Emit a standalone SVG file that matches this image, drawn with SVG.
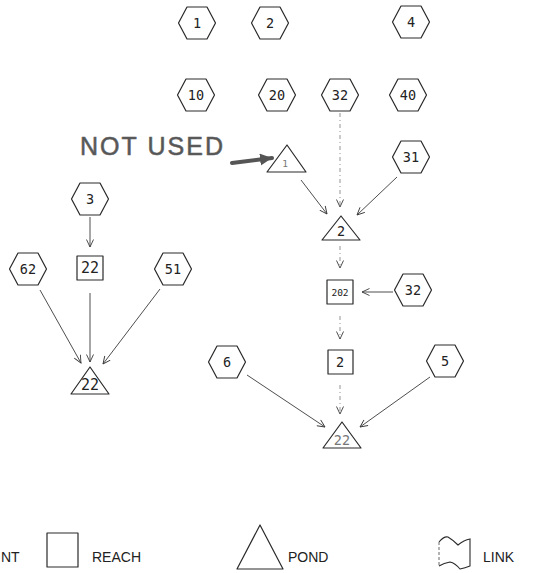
<svg xmlns="http://www.w3.org/2000/svg" xmlns:xlink="http://www.w3.org/1999/xlink" width="539" height="573" viewBox="0 0 539 573">
  <style>
    .shape { fill: #fff; stroke: #2a2a2a; stroke-width: 1.2; stroke-linejoin: round; }
    .lbl { font-family: "DejaVu Sans Mono", "Liberation Mono", monospace; font-size: 13.5px; fill: #222; text-anchor: middle; dominant-baseline: central; }
    .lbl-s { font-size: 9.5px; }
    .lbl-l { font-size: 15px; }
    .faint { fill: #777; }
    .edge { fill: none; stroke: #3a3a3a; stroke-width: 0.9; }
    .dot { fill: none; stroke: #888; stroke-width: 0.9; stroke-dasharray: 4 3 1 3; }
    .legend { font-family: "Liberation Sans", Arial, sans-serif; font-size: 14px; fill: #222; }
    .hand { font-family: "Liberation Sans", Arial, sans-serif; font-size: 25px; fill: #555; stroke: #666; stroke-width: 0.6; stroke-linejoin: round; }
  </style>
  <defs>
    <path id="hex" d="M-18.5,0 L-10,-16 L10,-16 L18.5,0 L10,16 L-10,16 Z"/>
    <marker id="vee" markerUnits="userSpaceOnUse" markerWidth="12" markerHeight="12" refX="8" refY="4" orient="auto">
      <path d="M0.5,0.5 L8,4 L0.5,7.5" fill="none" stroke="#3a3a3a" stroke-width="0.9"/>
    </marker>
    <marker id="bold" markerUnits="userSpaceOnUse" markerWidth="16" markerHeight="14" refX="12" refY="6" orient="auto">
      <path d="M0,0 L12,6 L0,12 Z" fill="#555"/>
    </marker>
  </defs>

  <rect width="539" height="573" fill="#fff"/>

  <!-- connectors -->
  <g id="connectors">
    <line class="edge" x1="90" y1="217" x2="90" y2="247" marker-end="url(#vee)"/>
    <line class="edge" x1="40" y1="290" x2="81" y2="363" marker-end="url(#vee)"/>
    <line class="edge" x1="90" y1="293" x2="90" y2="362" marker-end="url(#vee)"/>
    <line class="edge" x1="160" y1="289" x2="103" y2="364" marker-end="url(#vee)"/>
    <line class="dot" x1="340" y1="113" x2="340" y2="207" marker-end="url(#vee)"/>
    <line class="edge" x1="301" y1="180" x2="327" y2="214" marker-end="url(#vee)"/>
    <line class="edge" x1="397" y1="177" x2="357" y2="215" marker-end="url(#vee)"/>
    <line class="dot" x1="340" y1="246" x2="340" y2="268" marker-end="url(#vee)"/>
    <line class="edge" x1="393" y1="292" x2="362" y2="292" marker-end="url(#vee)"/>
    <line class="dot" x1="340" y1="316" x2="340" y2="339" marker-end="url(#vee)"/>
    <line class="dot" x1="340" y1="385" x2="340" y2="414" marker-end="url(#vee)"/>
    <line class="edge" x1="247" y1="375" x2="325" y2="427" marker-end="url(#vee)"/>
    <line class="edge" x1="430" y1="377" x2="360" y2="427" marker-end="url(#vee)"/>
  </g>

  <!-- top rows of hexagon points -->
  <g id="n1"><use xlink:href="#hex" href="#hex" x="197" y="23" class="shape"/><text class="lbl" x="197" y="23">1</text></g>
  <g id="n2"><use xlink:href="#hex" href="#hex" x="270" y="23" class="shape"/><text class="lbl" x="270" y="23">2</text></g>
  <g id="n4"><use xlink:href="#hex" href="#hex" x="411" y="22" class="shape"/><text class="lbl" x="411" y="22">4</text></g>
  <g id="n10"><use xlink:href="#hex" href="#hex" x="196" y="95" class="shape"/><text class="lbl" x="196" y="95">10</text></g>
  <g id="n20"><use xlink:href="#hex" href="#hex" x="277" y="95" class="shape"/><text class="lbl" x="277" y="95">20</text></g>
  <g id="n32a"><use xlink:href="#hex" href="#hex" x="340" y="95" class="shape"/><text class="lbl" x="340" y="95">32</text></g>
  <g id="n40"><use xlink:href="#hex" href="#hex" x="408" y="95" class="shape"/><text class="lbl" x="408" y="95">40</text></g>

  <!-- left network -->
  <g id="n3"><use xlink:href="#hex" href="#hex" x="90" y="199" class="shape"/><text class="lbl" x="90" y="199">3</text></g>
  <g id="n62"><use xlink:href="#hex" href="#hex" x="28" y="269" class="shape"/><text class="lbl" x="28" y="269">62</text></g>
  <g id="r22"><rect class="shape" x="77" y="256" width="26" height="24"/><text class="lbl lbl-l" x="90" y="268">22</text></g>
  <g id="n51"><use xlink:href="#hex" href="#hex" x="173" y="269" class="shape"/><text class="lbl" x="173" y="269">51</text></g>
  <g id="p22a"><path class="shape" d="M90,367 L109,394 L71,394 Z"/><text class="lbl lbl-l" x="90" y="385">22</text></g>

  <!-- right network -->
  <g id="p1"><path class="shape" d="M287,145 L306,172 L267,172 Z"/><text class="lbl lbl-s faint" x="285" y="163">1</text></g>
  <g id="n31"><use xlink:href="#hex" href="#hex" x="411" y="157" class="shape"/><text class="lbl" x="411" y="157">31</text></g>
  <g id="p2"><path class="shape" d="M341,216 L360,240 L322,240 Z"/><text class="lbl" x="341" y="231">2</text></g>
  <g id="r202"><rect class="shape" x="327" y="280" width="26" height="24"/><text class="lbl lbl-s" x="340" y="292">202</text></g>
  <g id="n32b"><use xlink:href="#hex" href="#hex" x="413" y="290" class="shape"/><text class="lbl" x="413" y="290">32</text></g>
  <g id="r2"><rect class="shape" x="328" y="350" width="25" height="24"/><text class="lbl" x="340" y="362">2</text></g>
  <g id="n6"><use xlink:href="#hex" href="#hex" x="227" y="362" class="shape"/><text class="lbl" x="227" y="362">6</text></g>
  <g id="n5"><use xlink:href="#hex" href="#hex" x="445" y="361" class="shape"/><text class="lbl" x="445" y="361">5</text></g>
  <g id="p22b"><path class="shape" d="M342,422 L361,448 L323,448 Z"/><text class="lbl faint" x="342" y="440">22</text></g>

  <!-- handwritten note -->
  <g id="note">
    <text class="hand" x="80" y="155" textLength="143" lengthAdjust="spacing">NOT USED</text>
    <line x1="232" y1="163" x2="272" y2="158" stroke="#555" stroke-width="4" stroke-linecap="round" marker-end="url(#bold)"/>
  </g>

  <!-- legend -->
  <g id="legend">
    <text class="legend" x="1" y="562">NT</text>
    <rect class="shape" x="47" y="533" width="31" height="34"/>
    <text class="legend" x="92" y="562">REACH</text>
    <path class="shape" d="M260,525 L283,569 L237,569 Z"/>
    <text class="legend" x="288" y="562">POND</text>
    <path d="M439,542 Q444,536 448,537 Q453,540 458,545 Q464,540 470,539 L470,566 Q465,568 460,569 Q455,563 450,562 Q444,563 439,566" fill="none" stroke="#2a2a2a" stroke-width="1.1"/>
    <line x1="439" y1="542" x2="439" y2="566" stroke="#666" stroke-width="1" stroke-dasharray="3 2"/>
    <text class="legend" x="483" y="562">LINK</text>
  </g>
</svg>
